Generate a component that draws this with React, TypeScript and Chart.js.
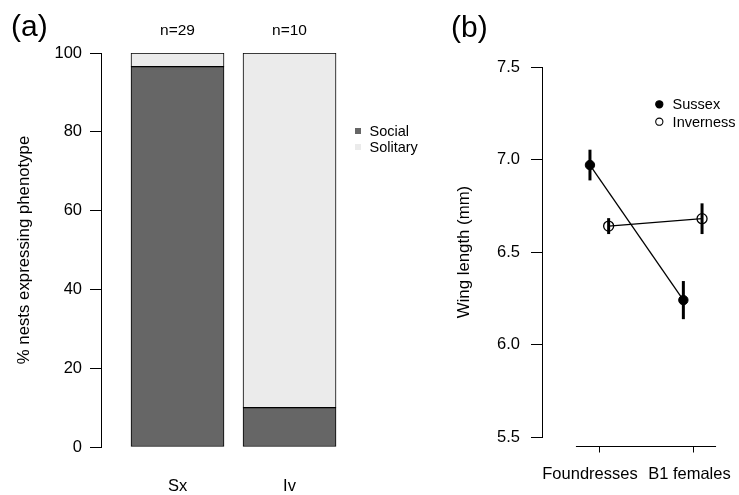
import React, { useEffect, useRef } from 'react';
import { Chart, registerables } from 'chart.js';

Chart.register(...registerables);

const FONT = "'Liberation Sans', Arial, Helvetica, sans-serif";

// ---------- Panel (a) data ----------
const nestCategories = ['Sx', 'Iv'];
const nestCounts = ['n=29', 'n=10'];
const socialPct = [96.55, 10];
const solitaryPct = [3.45, 90];
const pctTicks = [0, 20, 40, 60, 80, 100];

// ---------- Panel (b) data ----------
const casteCategories = ['Foundresses', 'B1 females'];
const casteTickPos = [1, 2];
const casteLabelPos = [0.9, 1.965];
const xAxisSpan = [0.75, 2.25];
const popOffset = [-0.1, 0.1];
const sussexWing = [6.97, 6.24];
const sussexErr = [0.083, 0.103];
const invernessWing = [6.64, 6.68];
const invernessErr = [0.043, 0.083];
const wingTicks = [5.5, 6.0, 6.5, 7.0, 7.5];

const DARK = '#666666';
const LIGHT = '#ebebeb';

export default function App() {
  const refA = useRef<HTMLCanvasElement>(null);
  const refB = useRef<HTMLCanvasElement>(null);

  useEffect(() => {
    const tickFont = { size: 16.5, family: FONT };
    const titleFont = { size: 16.8, family: FONT };

    const panelAPlugin = {
      id: 'panelA',
      afterDraw(chart: any) {
        const { ctx } = chart;
        const x = chart.scales.x;
        ctx.save();
        ctx.fillStyle = '#000';
        ctx.textBaseline = 'alphabetic';
        ctx.textAlign = 'left';
        ctx.font = `30px ${FONT}`;
        ctx.fillText('(a)', 11, 35.5);
        ctx.font = `15.5px ${FONT}`;
        ctx.textAlign = 'center';
        nestCounts.forEach((t, i) => ctx.fillText(t, x.getPixelForValue(i + 1), 34.5));
        ctx.font = `14.5px ${FONT}`;
        ctx.textAlign = 'left';
        ctx.textBaseline = 'middle';
        chart.data.datasets.forEach((ds: any, i: number) => {
          const yy = 131 + i * 16;
          ctx.fillStyle = ds.backgroundColor;
          ctx.fillRect(355, yy - 3, 6, 6);
          ctx.fillStyle = '#000';
          ctx.fillText(ds.label, 369.5, yy + 1);
        });
        ctx.restore();
      },
    };

    const chartA = new Chart(refA.current!, {
      type: 'bar',
      data: {
        datasets: [
          {
            label: 'Social',
            data: socialPct.map((v, i) => ({ x: i + 1, y: v })),
            backgroundColor: DARK,
            borderColor: '#000',
            borderWidth: 1,
            borderSkipped: false,
            barThickness: 93,
          },
          {
            label: 'Solitary',
            data: solitaryPct.map((v, i) => ({ x: i + 1, y: v })),
            backgroundColor: LIGHT,
            borderColor: '#000',
            borderWidth: 1,
            borderSkipped: false,
            barThickness: 93,
          },
        ],
      } as any,
      options: {
        responsive: false,
        animation: false,
        events: [],
        layout: { autoPadding: false, padding: { top: 53, left: 0, right: 0, bottom: 0 } },
        plugins: { legend: { display: false }, tooltip: { enabled: false } },
        scales: {
          x: {
            type: 'linear',
            min: 0.317,
            max: 3.254,
            offset: false,
            stacked: true,
            afterBuildTicks: (s: any) => {
              s.ticks = nestCategories.map((_, i) => ({ value: i + 1 }));
            },
            afterFit: (s: any) => {
              s.height = 48;
              s.paddingLeft = 0;
              s.paddingRight = 0;
            },
            grid: { display: false, drawTicks: false },
            border: { display: false },
            ticks: {
              padding: 30,
              color: '#000',
              font: tickFont,
              maxRotation: 0,
              autoSkip: false,
              callback: (_v: any, i: number) => nestCategories[i],
            },
          },
          y: {
            min: 0,
            max: 100,
            stacked: true,
            afterBuildTicks: (s: any) => {
              s.ticks = pctTicks.map((v) => ({ value: v }));
            },
            afterFit: (s: any) => {
              s.width = 101;
            },
            grid: { drawOnChartArea: false, drawTicks: true, tickLength: 11, color: '#000', tickColor: '#000', tickWidth: 1 },
            border: { display: true, color: '#000', width: 1 },
            ticks: { padding: 8, color: '#000', font: tickFont },
            title: {
              display: true,
              text: '% nests expressing phenotype',
              color: '#000',
              font: titleFont,
              padding: { top: 14.5, bottom: 0 },
            },
          },
        },
      } as any,
      plugins: [panelAPlugin],
    });

    const errs = [sussexErr, invernessErr];

    const panelBPlugin = {
      id: 'panelB',
      afterDatasetsDraw(chart: any) {
        const { ctx } = chart;
        const x = chart.scales.x;
        const y = chart.scales.y;
        ctx.save();
        ctx.strokeStyle = '#000';
        ctx.lineWidth = 3;
        ctx.lineCap = 'butt';
        chart.data.datasets.forEach((ds: any, d: number) => {
          ds.data.forEach((p: any, i: number) => {
            const px = x.getPixelForValue(p.x);
            ctx.beginPath();
            ctx.moveTo(px, y.getPixelForValue(p.y + errs[d][i]));
            ctx.lineTo(px, y.getPixelForValue(p.y - errs[d][i]));
            ctx.stroke();
          });
        });
        ctx.restore();
      },
      afterDraw(chart: any) {
        const { ctx, chartArea } = chart;
        const x = chart.scales.x;
        ctx.save();
        // x axis line with ticks
        const y0 = Math.round(chartArea.bottom + 9) + 0.5;
        ctx.strokeStyle = '#000';
        ctx.lineWidth = 1;
        ctx.beginPath();
        ctx.moveTo(x.getPixelForValue(xAxisSpan[0]), y0);
        ctx.lineTo(x.getPixelForValue(xAxisSpan[1]), y0);
        casteTickPos.forEach((v) => {
          const px = Math.round(x.getPixelForValue(v)) + 0.5;
          ctx.moveTo(px, y0);
          ctx.lineTo(px, y0 + 6);
        });
        ctx.stroke();
        // panel tag
        ctx.fillStyle = '#000';
        ctx.font = `30px ${FONT}`;
        ctx.textAlign = 'left';
        ctx.textBaseline = 'alphabetic';
        ctx.fillText('(b)', 21, 36.5);
        // legend
        ctx.font = `14.5px ${FONT}`;
        ctx.textBaseline = 'middle';
        chart.data.datasets.forEach((ds: any, i: number) => {
          const yy = 104.3 + i * 17.4;
          ctx.beginPath();
          ctx.arc(229.3, yy, 3.6, 0, Math.PI * 2);
          ctx.fillStyle = ds.pointBackgroundColor;
          ctx.fill();
          ctx.lineWidth = 1.1;
          ctx.strokeStyle = '#000';
          ctx.stroke();
          ctx.fillStyle = '#000';
          ctx.fillText(ds.label, 242.6, yy + 1);
        });
        ctx.restore();
      },
    };

    const chartB = new Chart(refB.current!, {
      type: 'scatter',
      data: {
        datasets: [
          {
            label: 'Sussex',
            data: sussexWing.map((v, i) => ({ x: casteTickPos[i] + popOffset[0], y: v })),
            showLine: true,
            borderColor: '#000',
            borderWidth: 1.3,
            pointRadius: 4.7,
            pointBackgroundColor: '#000',
            pointBorderColor: '#000',
            pointBorderWidth: 1,
          },
          {
            label: 'Inverness',
            data: invernessWing.map((v, i) => ({ x: casteTickPos[i] + popOffset[1], y: v })),
            showLine: true,
            borderColor: '#000',
            borderWidth: 1.3,
            pointRadius: 5,
            pointBackgroundColor: 'rgba(0,0,0,0)',
            pointBorderColor: '#000',
            pointBorderWidth: 1.3,
          },
        ],
      } as any,
      options: {
        responsive: false,
        animation: false,
        events: [],
        layout: { autoPadding: false, padding: { top: 67, left: 0, right: 0, bottom: 0 } },
        plugins: { legend: { display: false }, tooltip: { enabled: false } },
        scales: {
          x: {
            type: 'linear',
            min: 0.3865,
            max: 2.4957,
            offset: false,
            afterBuildTicks: (s: any) => {
              s.ticks = casteLabelPos.map((v) => ({ value: v }));
            },
            afterFit: (s: any) => {
              s.height = 58;
              s.paddingLeft = 0;
              s.paddingRight = 0;
            },
            grid: { display: false, drawTicks: false },
            border: { display: false },
            ticks: {
              padding: 28,
              color: '#000',
              font: tickFont,
              maxRotation: 0,
              autoSkip: false,
              callback: (_v: any, i: number) => casteCategories[i],
            },
          },
          y: {
            min: 5.5,
            max: 7.5,
            afterBuildTicks: (s: any) => {
              s.ticks = wingTicks.map((v) => ({ value: v }));
            },
            afterFit: (s: any) => {
              s.width = 112;
            },
            grid: { drawOnChartArea: false, drawTicks: true, tickLength: 11, color: '#000', tickColor: '#000', tickWidth: 1 },
            border: { display: true, color: '#000', width: 1 },
            ticks: {
              padding: 11,
              color: '#000',
              font: tickFont,
              callback: (v: any) => Number(v).toFixed(1),
            },
            title: {
              display: true,
              text: 'Wing length (mm)',
              color: '#000',
              font: titleFont,
              padding: { top: 24, bottom: 0 },
            },
          },
        },
      } as any,
      plugins: [panelBPlugin],
    });

    return () => {
      chartA.destroy();
      chartB.destroy();
    };
  }, []);

  return (
    <div style={{ position: 'absolute', left: 0, top: 0, width: 739, height: 495, background: '#fff', overflow: 'hidden' }}>
      <canvas ref={refA} width={430} height={495} style={{ position: 'absolute', left: 0, top: 0 }} />
      <canvas ref={refB} width={309} height={495} style={{ position: 'absolute', left: 430, top: 0 }} />
    </div>
  );
}
